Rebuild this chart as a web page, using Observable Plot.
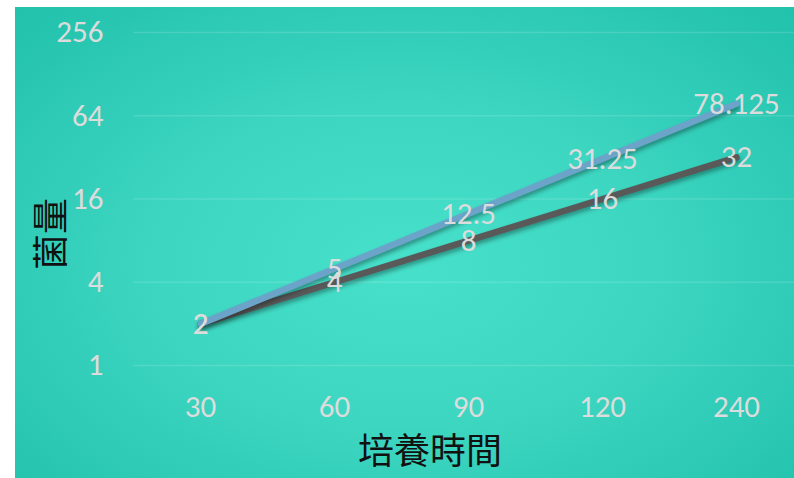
<!DOCTYPE html>
<html><head><meta charset="utf-8">
<script src="https://cdn.jsdelivr.net/npm/d3@7"></script>
<script src="https://cdn.jsdelivr.net/npm/@observablehq/plot@0.6"></script>
<style>
html,body{margin:0;padding:0;background:#fff;width:794px;height:478px;overflow:hidden}
#chart{position:absolute;left:15px;top:7px;width:779px;height:471px;
background:radial-gradient(ellipse 70% 75% at 50% 55%, #47e0ca 0%, #3dd6c1 45%, #2cc9b4 80%, #22c2ad 100%);}
#chart svg{background:transparent;position:absolute;left:0;top:0;}
g[aria-label="line"] path{filter:drop-shadow(1px 3px 2px rgba(0,0,0,0.35));}
.ttl{position:absolute;font-family:'Noto Sans CJK TC','Noto Sans CJK JP',sans-serif;font-size:36px;color:#111;line-height:1;white-space:nowrap;}
#xt{left:358px;top:430px;}
#yt{left:48px;top:234px;transform:translate(-50%,-50%) rotate(-90deg);}
</style></head>
<body><div id="chart"></div>
<div id="xt" class="ttl"></div><div id="yt" class="ttl"></div>
<script>
const times = ["30","60","90","120","240"];
const seriesA = [2, 5, 12.5, 31.25, 78.125];
const seriesB = [2, 4, 8, 16, 32];
const yTicks = [1, 4, 16, 64, 256];
const xTitle = "培養時間";
const yTitle = "菌量";

const dataA = times.map((t,i)=>({t, v: seriesA[i]}));
const dataB = times.map((t,i)=>({t, v: seriesB[i]}));
const font = "Carlito, Lato, 'Noto Sans', sans-serif";
const labelColor = "#dcdcdc";

const plot = Plot.plot({
  width: 779, height: 471,
  marginLeft: 118, marginRight: 0, marginTop: 25, marginBottom: 113,
  style: {background: "transparent", fontFamily: font, overflow: "visible"},
  x: {type: "point", domain: times, padding: 0, range: [185, 721], label: null},
  y: {type: "log", base: 2, domain: [1, 256], label: null},
  marks: [
    Plot.gridY(yTicks, {stroke: "#ffffff", strokeOpacity: 0.13, strokeWidth: 1.5}),
    Plot.axisY(yTicks, {tickSize: 0, tickPadding: 30, fontSize: 31, fill: labelColor, stroke: null, tickFormat: d => String(d), label: null}),
    Plot.axisX(times, {tickSize: 0, tickPadding: 29, fontSize: 31, fill: labelColor, label: null}),
    Plot.line(dataB, {x: "t", y: "v", stroke: "#595959", strokeWidth: 6.5}),
    Plot.line(dataA, {x: "t", y: "v", stroke: "#6ba3c9", strokeWidth: 6.5}),
    Plot.text(dataA, {x: "t", y: "v", text: d => String(d.v), fontSize: 31, fill: labelColor}),
    Plot.text(dataB, {x: "t", y: "v", text: d => String(d.v), fontSize: 31, fill: labelColor})
  ]
});
document.getElementById("chart").appendChild(plot);
document.getElementById("xt").textContent = xTitle;
document.getElementById("yt").textContent = yTitle;
</script></body></html>
